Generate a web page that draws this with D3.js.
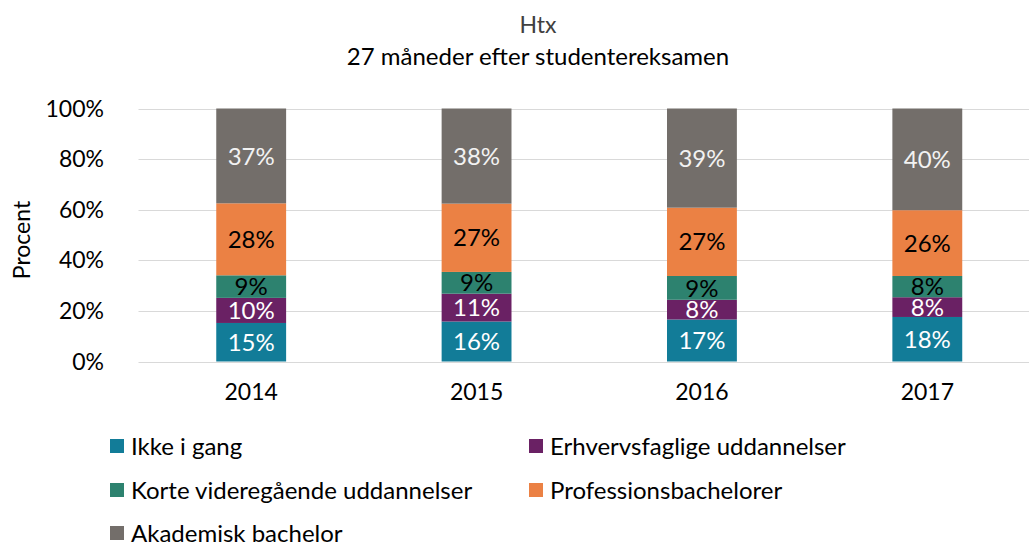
<!DOCTYPE html>
<html>
<head>
<meta charset="utf-8">
<script src="https://cdn.jsdelivr.net/npm/d3@7"></script>
<style>
    body { margin: 0; background: #fff; }
    svg { font-family: Lato, "Open Sans", sans-serif; }
</style>
</head>
<body>
<svg id="chart" width="1029" height="546"></svg>
<script>
// Data (shares in percent)
const years = ["2014", "2015", "2016", "2017"];
const categories = ["Ikke i gang", "Erhvervsfaglige uddannelser", "Korte videregående uddannelser", "Professionsbachelorer", "Akademisk bachelor"];
const ikkeIGang = [15.2, 15.8, 16.6, 17.6];
const erhvervsfaglige = [9.9, 11.0, 7.8, 7.8];
const korteVideregaaende = [8.9, 8.6, 9.4, 8.4];
const professionsbachelorer = [28.4, 27.0, 27.0, 26.0];
const akademiskBachelor = [37.4, 37.6, 39.2, 40.2];
const yTicks = [0, 20, 40, 60, 80, 100];

const seriesValues = [ikkeIGang, erhvervsfaglige, korteVideregaaende, professionsbachelorer, akademiskBachelor];
const colors = ["#127c98", "#6a2164", "#2d826f", "#eb8144", "#736e6a"];
const labelColors = ["#ffffff", "#ffffff", "#000000", "#000000", "#f2f2f2"];

const svg = d3.select("#chart");
const margin = {left: 138.5, right: 1040, top: 108.5, bottom: 361.5};

// rows for d3.stack
const rows = years.map((y, i) => {
    let r = {year: y};
    categories.forEach((c, k) => r[c] = seriesValues[k][i]);
    return r;
});

const stacked = d3.stack().keys(categories).offset(d3.stackOffsetExpand)(rows);

const x = d3.scaleBand()
    .domain(years)
    .range([margin.left, margin.right])
    .paddingInner(0.69)
    .paddingOuter(0.345);

const y = d3.scaleLinear()
    .domain([0, 1])
    .range([margin.bottom, margin.top]);

// gridlines
svg.append("g")
    .selectAll("line")
    .data(yTicks)
    .join("line")
    .attr("x1", margin.left)
    .attr("x2", margin.right)
    .attr("y1", d => Math.round(y(d / 100)) + 0.5)
    .attr("y2", d => Math.round(y(d / 100)) + 0.5)
    .attr("stroke", "#d9d9d9")
    .attr("stroke-width", 1);

// y tick labels
svg.append("g")
    .selectAll("text")
    .data(yTicks)
    .join("text")
    .attr("x", 104)
    .attr("y", d => y(d / 100))
    .attr("dy", "0.35em")
    .attr("text-anchor", "end")
    .attr("font-size", 23)
    .attr("fill", "#000")
    .text(d => d + "%");

// bars
const groups = svg.append("g")
    .selectAll("g")
    .data(stacked)
    .join("g")
    .attr("fill", (d, i) => colors[i]);

groups.selectAll("rect")
    .data(d => d)
    .join("rect")
    .attr("x", d => x(d.data.year))
    .attr("width", x.bandwidth())
    .attr("y", d => y(d[1]))
    .attr("height", d => y(d[0]) - y(d[1]));

// data labels
svg.append("g")
    .selectAll("g")
    .data(stacked)
    .join("g")
    .attr("fill", (d, i) => labelColors[i])
    .selectAll("text")
    .data(d => d.map(p => ({p: p, key: d.key})))
    .join("text")
    .attr("x", d => x(d.p.data.year) + x.bandwidth() / 2)
    .attr("y", d => (y(d.p[0]) + y(d.p[1])) / 2)
    .attr("dy", "0.36em")
    .attr("text-anchor", "middle")
    .attr("font-size", 24)
    .text(d => Math.round(d.p.data[d.key]) + "%");

// x axis labels
svg.append("g")
    .selectAll("text")
    .data(years)
    .join("text")
    .attr("x", d => x(d) + x.bandwidth() / 2)
    .attr("y", 400)
    .attr("text-anchor", "middle")
    .attr("font-size", 23)
    .text(d => d);

// axis title
svg.append("text")
    .attr("transform", "translate(30,240) rotate(-90)")
    .attr("text-anchor", "middle")
    .attr("font-size", 23)
    .text("Procent");

// title
svg.append("text")
    .attr("x", 538)
    .attr("y", 33)
    .attr("text-anchor", "middle")
    .attr("font-size", 23)
    .attr("fill", "#404040")
    .text("Htx");

svg.append("text")
    .attr("x", 538)
    .attr("y", 65)
    .attr("text-anchor", "middle")
    .attr("font-size", 24)
    .attr("fill", "#000")
    .text("27 måneder efter studentereksamen");

// legend
const legendPos = [
    {x: 110, y: 455}, {x: 529, y: 455},
    {x: 110, y: 499}, {x: 529, y: 499},
    {x: 110, y: 542}
];

const legend = svg.append("g")
    .selectAll("g")
    .data(categories)
    .join("g")
    .attr("transform", (d, i) => `translate(${legendPos[i].x},${legendPos[i].y})`);

legend.append("rect")
    .attr("x", 0)
    .attr("y", -16)
    .attr("width", 14)
    .attr("height", 14)
    .attr("fill", (d, i) => colors[i]);

legend.append("text")
    .attr("x", 21)
    .attr("y", 0)
    .attr("font-size", 24)
    .text(d => d);
</script>
</body>
</html>
